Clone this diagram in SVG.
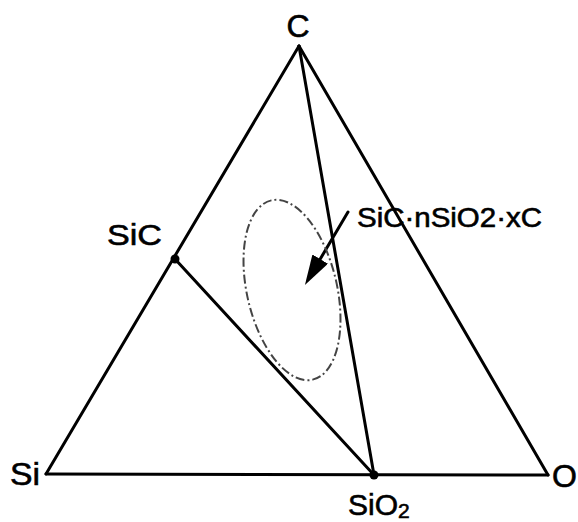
<svg xmlns="http://www.w3.org/2000/svg" width="578" height="522" viewBox="0 0 578 522">
<style>
.edge{stroke:#000;stroke-width:3;fill:none;stroke-linecap:round;stroke-linejoin:round}
.lbl{font-family:"Liberation Sans",Arial,Helvetica,sans-serif;fill:#000;stroke:#000;stroke-width:0.6}
.dot{fill:#000}
.region{fill:none;stroke:#444;stroke-width:2;stroke-dasharray:9 3 2 3}
</style>
<defs>
<marker id="head" markerUnits="userSpaceOnUse" markerWidth="32" markerHeight="18" refX="22" refY="9" orient="auto">
<path d="M0,0 L30,9 L0,18 z" fill="#000"/>
</marker>
</defs>
<rect width="578" height="522" fill="#fff"/>
<g id="connectors">
<line class="edge" x1="46" y1="474" x2="299" y2="46"/>
<line class="edge" x1="299" y1="46" x2="548" y2="475"/>
<line class="edge" x1="46" y1="474" x2="548" y2="475"/>
<line class="edge" x1="299" y1="46" x2="374" y2="475"/>
<line class="edge" x1="175" y1="259" x2="374" y2="475"/>
<line class="edge" stroke-width="2.5" x1="348" y1="212" x2="309" y2="278" marker-end="url(#head)"/>
</g>
<g id="region">
<ellipse class="region" cx="292" cy="290" rx="45" ry="92" transform="rotate(-13 292 290)"/>
</g>
<g id="node-C">
<text class="lbl" x="298" y="37" font-size="32" text-anchor="middle">C</text>
</g>
<g id="node-SiC">
<circle class="dot" cx="175" cy="259" r="4.5"/>
<text class="lbl" x="107" y="245" font-size="30" textLength="55" lengthAdjust="spacingAndGlyphs">SiC</text>
</g>
<g id="node-Si">
<text class="lbl" x="10" y="485" font-size="31" textLength="30" lengthAdjust="spacingAndGlyphs">Si</text>
</g>
<g id="node-SiO2">
<circle class="dot" cx="374" cy="475" r="4.5"/>
<text class="lbl" x="348" y="515" font-size="30">SiO<tspan font-size="21" dy="3">2</tspan></text>
</g>
<g id="node-O">
<text class="lbl" x="552" y="487" font-size="32">O</text>
</g>
<g id="label-compound">
<text class="lbl" x="357" y="227" font-size="27" textLength="185" lengthAdjust="spacingAndGlyphs">SiC·nSiO2·xC</text>
</g>
</svg>
